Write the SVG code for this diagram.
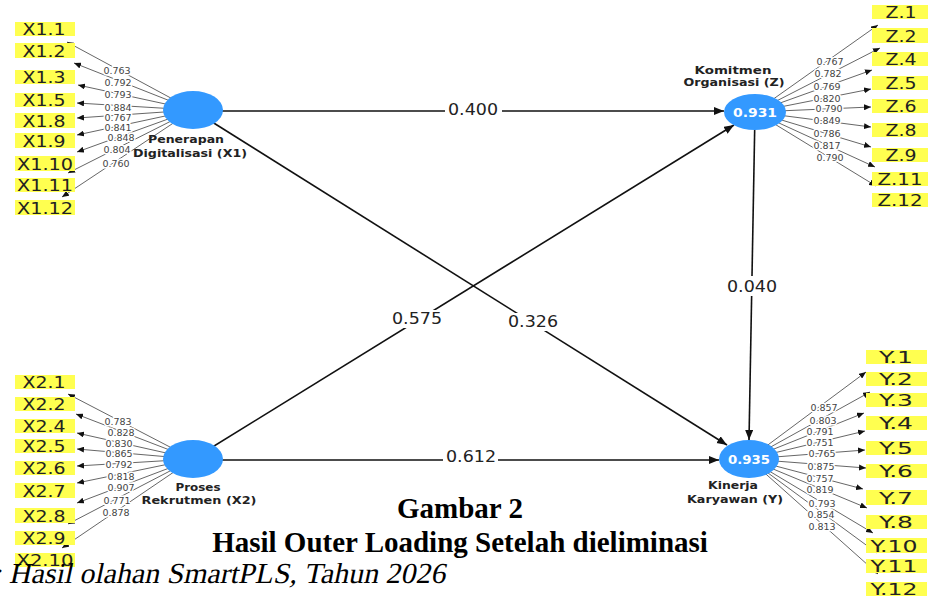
<svg xmlns="http://www.w3.org/2000/svg" width="930" height="596" viewBox="0 0 930 596">
<style>
.ind{fill:#ffff50}
.it{font-family:"DejaVu Sans",Verdana,sans-serif;font-size:16px;fill:#222;text-anchor:middle}
.il{stroke:#555;stroke-width:0.9;fill:none}
.ld{font-family:"DejaVu Sans",sans-serif;font-size:9.5px;fill:#444;text-anchor:middle;stroke:#fff;stroke-width:3;paint-order:stroke;stroke-linejoin:round}
.sp{stroke:#111;stroke-width:1.6;fill:none}
.pl{font-family:"DejaVu Sans",sans-serif;font-size:15px;fill:#222;text-anchor:middle}
.lv{fill:#3399ff}
.nl{font-family:"DejaVu Sans",sans-serif;font-weight:bold;font-size:11px;fill:#222;text-anchor:middle}
.nv{font-family:"DejaVu Sans",sans-serif;font-weight:bold;font-size:12px;fill:#fff;text-anchor:middle}
.cap{font-family:"Liberation Serif","Times New Roman",serif;font-weight:bold;font-size:29px;fill:#000;text-anchor:middle}
.src{font-family:"Liberation Serif","Times New Roman",serif;font-size:29px;fill:#000}
</style>
<defs>
<marker id="as" markerUnits="userSpaceOnUse" markerWidth="11" markerHeight="9" refX="10" refY="4" orient="auto"><path d="M0,0 L10,4 L0,8 z" fill="#111"/></marker>
<marker id="ai" markerUnits="userSpaceOnUse" markerWidth="8" markerHeight="6" refX="7" refY="3" orient="auto"><path d="M0,0 L7,3 L0,6 z" fill="#111"/></marker>
</defs>
<rect width="930" height="596" fill="#fff"/>

<g id="connectors">
<g marker-end="url(#ai)" class="il">
<path d="M193,110 L67,42"/><path d="M193,110 L74,63"/><path d="M193,110 L78,85"/><path d="M193,110 L77,103"/><path d="M193,110 L77,118"/><path d="M193,110 L77,135"/><path d="M193,110 L77,152"/><path d="M193,110 L68,173"/><path d="M193,110 L62,197"/>
<path d="M193,459 L68,394"/><path d="M193,459 L76,414"/><path d="M193,459 L77,433"/><path d="M193,459 L77,449"/><path d="M193,459 L77,466"/><path d="M193,459 L77,483"/><path d="M193,459 L77,503"/><path d="M193,459 L68,524"/><path d="M193,459 L62,548"/>
<path d="M755,112 L878,25"/><path d="M755,112 L880,48"/><path d="M755,112 L872,70"/><path d="M755,112 L871,89"/><path d="M755,112 L871,107"/><path d="M755,112 L871,127"/><path d="M755,112 L871,147"/><path d="M755,112 L875,167"/><path d="M755,112 L876,186"/>
<path d="M749,459 L866,372"/><path d="M749,459 L870,392"/><path d="M749,459 L864,413"/><path d="M749,459 L865,431"/><path d="M749,459 L865,450"/><path d="M749,459 L866,468"/><path d="M749,459 L863,489"/><path d="M749,459 L867,508"/><path d="M749,459 L873,533"/><path d="M749,459 L877,553"/><path d="M749,459 L878,574"/>
</g>
<g class="sp" marker-end="url(#as)">
<path d="M193,111 L724,111"/>
<path d="M193,110 L727,445"/>
<path d="M193,459 L734,125"/>
<path d="M193,460 L719,460"/>
<path d="M755,112 L749,440"/>
</g>
<g fill="#fff">
<rect x="445" y="101" width="57" height="18"/>
<rect x="391" y="310" width="52" height="18"/>
<rect x="507" y="313" width="52" height="18"/>
<rect x="443" y="448" width="55" height="18"/>
<rect x="726" y="276" width="52" height="20"/>
</g>
<text class="pl" x="473" y="115" textLength="50" lengthAdjust="spacingAndGlyphs">0.400</text>
<text class="pl" x="417" y="324" textLength="50" lengthAdjust="spacingAndGlyphs">0.575</text>
<text class="pl" x="533" y="327" textLength="50" lengthAdjust="spacingAndGlyphs">0.326</text>
<text class="pl" x="471" y="462" textLength="50" lengthAdjust="spacingAndGlyphs">0.612</text>
<text class="pl" x="752" y="292" textLength="50" lengthAdjust="spacingAndGlyphs">0.040</text>

<text class="ld" x="117" y="74">0.763</text>
<text class="ld" x="118" y="86">0.792</text>
<text class="ld" x="118" y="98">0.793</text>
<text class="ld" x="118" y="111">0.884</text>
<text class="ld" x="118" y="121">0.767</text>
<text class="ld" x="118" y="131">0.841</text>
<text class="ld" x="121" y="141">0.848</text>
<text class="ld" x="117" y="153">0.804</text>
<text class="ld" x="116" y="167">0.760</text>

<text class="ld" x="118" y="425">0.783</text>
<text class="ld" x="121" y="436">0.828</text>
<text class="ld" x="119" y="447">0.830</text>
<text class="ld" x="119" y="457">0.865</text>
<text class="ld" x="119" y="468">0.792</text>
<text class="ld" x="121" y="480">0.818</text>
<text class="ld" x="121" y="491">0.907</text>
<text class="ld" x="117" y="504">0.771</text>
<text class="ld" x="116" y="516">0.878</text>

<text class="ld" x="830" y="65">0.767</text>
<text class="ld" x="828" y="77">0.782</text>
<text class="ld" x="827" y="90">0.769</text>
<text class="ld" x="827" y="102">0.820</text>
<text class="ld" x="829" y="112">0.790</text>
<text class="ld" x="827" y="124">0.849</text>
<text class="ld" x="827" y="137">0.786</text>
<text class="ld" x="827" y="149">0.817</text>
<text class="ld" x="830" y="161">0.790</text>

<text class="ld" x="824" y="411">0.857</text>
<text class="ld" x="823" y="424">0.803</text>
<text class="ld" x="820" y="435">0.791</text>
<text class="ld" x="820" y="446">0.751</text>
<text class="ld" x="822" y="457">0.765</text>
<text class="ld" x="821" y="470">0.875</text>
<text class="ld" x="820" y="482">0.757</text>
<text class="ld" x="820" y="493">0.819</text>
<text class="ld" x="822" y="507">0.793</text>
<text class="ld" x="821" y="518">0.854</text>
<text class="ld" x="822" y="530">0.813</text>
</g>

<g id="X1">
<ellipse class="lv" cx="193" cy="110" rx="30" ry="19"/>
<text class="nl" x="186" y="143" textLength="76" lengthAdjust="spacingAndGlyphs">Penerapan</text>
<text class="nl" x="190" y="157" textLength="114" lengthAdjust="spacingAndGlyphs">Digitalisasi (X1)</text>
</g>
<g id="X2">
<ellipse class="lv" cx="193" cy="459" rx="30" ry="19"/>
<text class="nl" x="198" y="491" textLength="45" lengthAdjust="spacingAndGlyphs">Proses</text>
<text class="nl" x="199" y="504" textLength="115" lengthAdjust="spacingAndGlyphs">Rekrutmen (X2)</text>
</g>
<g id="Z">
<ellipse class="lv" cx="755" cy="112" rx="31" ry="18"/>
<text class="nv" x="755" y="116.5" textLength="44" lengthAdjust="spacingAndGlyphs">0.931</text>
<text class="nl" x="733" y="74" textLength="77" lengthAdjust="spacingAndGlyphs">Komitmen</text>
<text class="nl" x="734" y="86" textLength="101" lengthAdjust="spacingAndGlyphs">Organisasi (Z)</text>
</g>
<g id="Y">
<ellipse class="lv" cx="749" cy="459" rx="30" ry="19"/>
<text class="nv" x="749" y="463.5" textLength="42" lengthAdjust="spacingAndGlyphs">0.935</text>
<text class="nl" x="733" y="489" textLength="50" lengthAdjust="spacingAndGlyphs">Kinerja</text>
<text class="nl" x="735" y="503" textLength="96" lengthAdjust="spacingAndGlyphs">Karyawan (Y)</text>
</g>

<g id="X1-indicators">
<rect class="ind" x="15" y="22" width="60" height="14"/><text class="it" x="44" y="35" textLength="43" lengthAdjust="spacingAndGlyphs">X1.1</text>
<rect class="ind" x="15" y="43" width="60" height="15"/><text class="it" x="44" y="57" textLength="43" lengthAdjust="spacingAndGlyphs">X1.2</text>
<rect class="ind" x="15" y="70" width="60" height="14"/><text class="it" x="44" y="83" textLength="43" lengthAdjust="spacingAndGlyphs">X1.3</text>
<rect class="ind" x="15" y="93" width="60" height="14"/><text class="it" x="44" y="106" textLength="43" lengthAdjust="spacingAndGlyphs">X1.5</text>
<rect class="ind" x="15" y="113" width="60" height="15"/><text class="it" x="44" y="127" textLength="43" lengthAdjust="spacingAndGlyphs">X1.8</text>
<rect class="ind" x="15" y="133" width="60" height="15"/><text class="it" x="44" y="147" textLength="43" lengthAdjust="spacingAndGlyphs">X1.9</text>
<rect class="ind" x="15" y="156" width="60" height="15"/><text class="it" x="45" y="170" textLength="56" lengthAdjust="spacingAndGlyphs">X1.10</text>
<rect class="ind" x="15" y="178" width="60" height="14"/><text class="it" x="45" y="191" textLength="56" lengthAdjust="spacingAndGlyphs">X1.11</text>
<rect class="ind" x="15" y="200" width="60" height="15"/><text class="it" x="45" y="214" textLength="56" lengthAdjust="spacingAndGlyphs">X1.12</text>
</g>
<g id="X2-indicators">
<rect class="ind" x="15" y="375" width="60" height="14"/><text class="it" x="44" y="388" textLength="43" lengthAdjust="spacingAndGlyphs">X2.1</text>
<rect class="ind" x="15" y="397" width="60" height="14"/><text class="it" x="44" y="410" textLength="43" lengthAdjust="spacingAndGlyphs">X2.2</text>
<rect class="ind" x="15" y="419" width="60" height="14"/><text class="it" x="44" y="432" textLength="43" lengthAdjust="spacingAndGlyphs">X2.4</text>
<rect class="ind" x="15" y="439" width="60" height="14"/><text class="it" x="44" y="452" textLength="43" lengthAdjust="spacingAndGlyphs">X2.5</text>
<rect class="ind" x="15" y="461" width="60" height="14"/><text class="it" x="44" y="474" textLength="43" lengthAdjust="spacingAndGlyphs">X2.6</text>
<rect class="ind" x="15" y="483" width="60" height="15"/><text class="it" x="44" y="497" textLength="43" lengthAdjust="spacingAndGlyphs">X2.7</text>
<rect class="ind" x="15" y="508" width="60" height="15"/><text class="it" x="44" y="522" textLength="43" lengthAdjust="spacingAndGlyphs">X2.8</text>
<rect class="ind" x="15" y="531" width="60" height="14"/><text class="it" x="44" y="544" textLength="43" lengthAdjust="spacingAndGlyphs">X2.9</text>
<rect class="ind" x="15" y="553" width="60" height="14"/><text class="it" x="45" y="566" textLength="57" lengthAdjust="spacingAndGlyphs">X2.10</text>
</g>
<g id="Z-indicators">
<rect class="ind" x="872" y="5" width="56" height="14"/><text class="it" x="901" y="18" textLength="31" lengthAdjust="spacingAndGlyphs">Z.1</text>
<rect class="ind" x="872" y="28" width="56" height="15"/><text class="it" x="901" y="42" textLength="31" lengthAdjust="spacingAndGlyphs">Z.2</text>
<rect class="ind" x="872" y="52" width="56" height="14"/><text class="it" x="901" y="65" textLength="31" lengthAdjust="spacingAndGlyphs">Z.4</text>
<rect class="ind" x="872" y="76" width="56" height="14"/><text class="it" x="901" y="89" textLength="31" lengthAdjust="spacingAndGlyphs">Z.5</text>
<rect class="ind" x="872" y="99" width="56" height="14"/><text class="it" x="901" y="112" textLength="31" lengthAdjust="spacingAndGlyphs">Z.6</text>
<rect class="ind" x="872" y="123" width="56" height="14"/><text class="it" x="901" y="136" textLength="31" lengthAdjust="spacingAndGlyphs">Z.8</text>
<rect class="ind" x="872" y="148" width="56" height="14"/><text class="it" x="901" y="161" textLength="31" lengthAdjust="spacingAndGlyphs">Z.9</text>
<rect class="ind" x="872" y="172" width="56" height="14"/><text class="it" x="900" y="185" textLength="45" lengthAdjust="spacingAndGlyphs">Z.11</text>
<rect class="ind" x="872" y="193" width="56" height="14"/><text class="it" x="900" y="206" textLength="45" lengthAdjust="spacingAndGlyphs">Z.12</text>
</g>
<g id="Y-indicators">
<rect class="ind" x="866" y="350" width="61" height="14"/><text class="it" x="896" y="363" textLength="34" lengthAdjust="spacingAndGlyphs">Y.1</text>
<rect class="ind" x="866" y="372" width="61" height="14"/><text class="it" x="896" y="385" textLength="34" lengthAdjust="spacingAndGlyphs">Y.2</text>
<rect class="ind" x="866" y="393" width="61" height="14"/><text class="it" x="896" y="406" textLength="34" lengthAdjust="spacingAndGlyphs">Y.3</text>
<rect class="ind" x="866" y="416" width="61" height="14"/><text class="it" x="896" y="429" textLength="34" lengthAdjust="spacingAndGlyphs">Y.4</text>
<rect class="ind" x="866" y="441" width="61" height="14"/><text class="it" x="896" y="454" textLength="34" lengthAdjust="spacingAndGlyphs">Y.5</text>
<rect class="ind" x="866" y="464" width="61" height="14"/><text class="it" x="896" y="477" textLength="34" lengthAdjust="spacingAndGlyphs">Y.6</text>
<rect class="ind" x="866" y="490" width="61" height="15"/><text class="it" x="896" y="504" textLength="34" lengthAdjust="spacingAndGlyphs">Y.7</text>
<rect class="ind" x="866" y="515" width="61" height="14"/><text class="it" x="896" y="528" textLength="34" lengthAdjust="spacingAndGlyphs">Y.8</text>
<rect class="ind" x="866" y="538" width="61" height="15"/><text class="it" x="894" y="552" textLength="47" lengthAdjust="spacingAndGlyphs">Y.10</text>
<rect class="ind" x="866" y="559" width="61" height="14"/><text class="it" x="894" y="572" textLength="47" lengthAdjust="spacingAndGlyphs">Y.11</text>
<rect class="ind" x="866" y="582" width="61" height="14"/><text class="it" x="894" y="595" textLength="47" lengthAdjust="spacingAndGlyphs">Y.12</text>
</g>

<g id="caption">
<text class="cap" x="460" y="518">Gambar 2</text>
<text class="cap" x="460" y="552">Hasil Outer Loading Setelah dieliminasi</text>
<text class="src" x="117" y="583" transform="skewX(-12)" textLength="452" lengthAdjust="spacingAndGlyphs">: Hasil olahan SmartPLS, Tahun 2026</text>
</g>
</svg>
